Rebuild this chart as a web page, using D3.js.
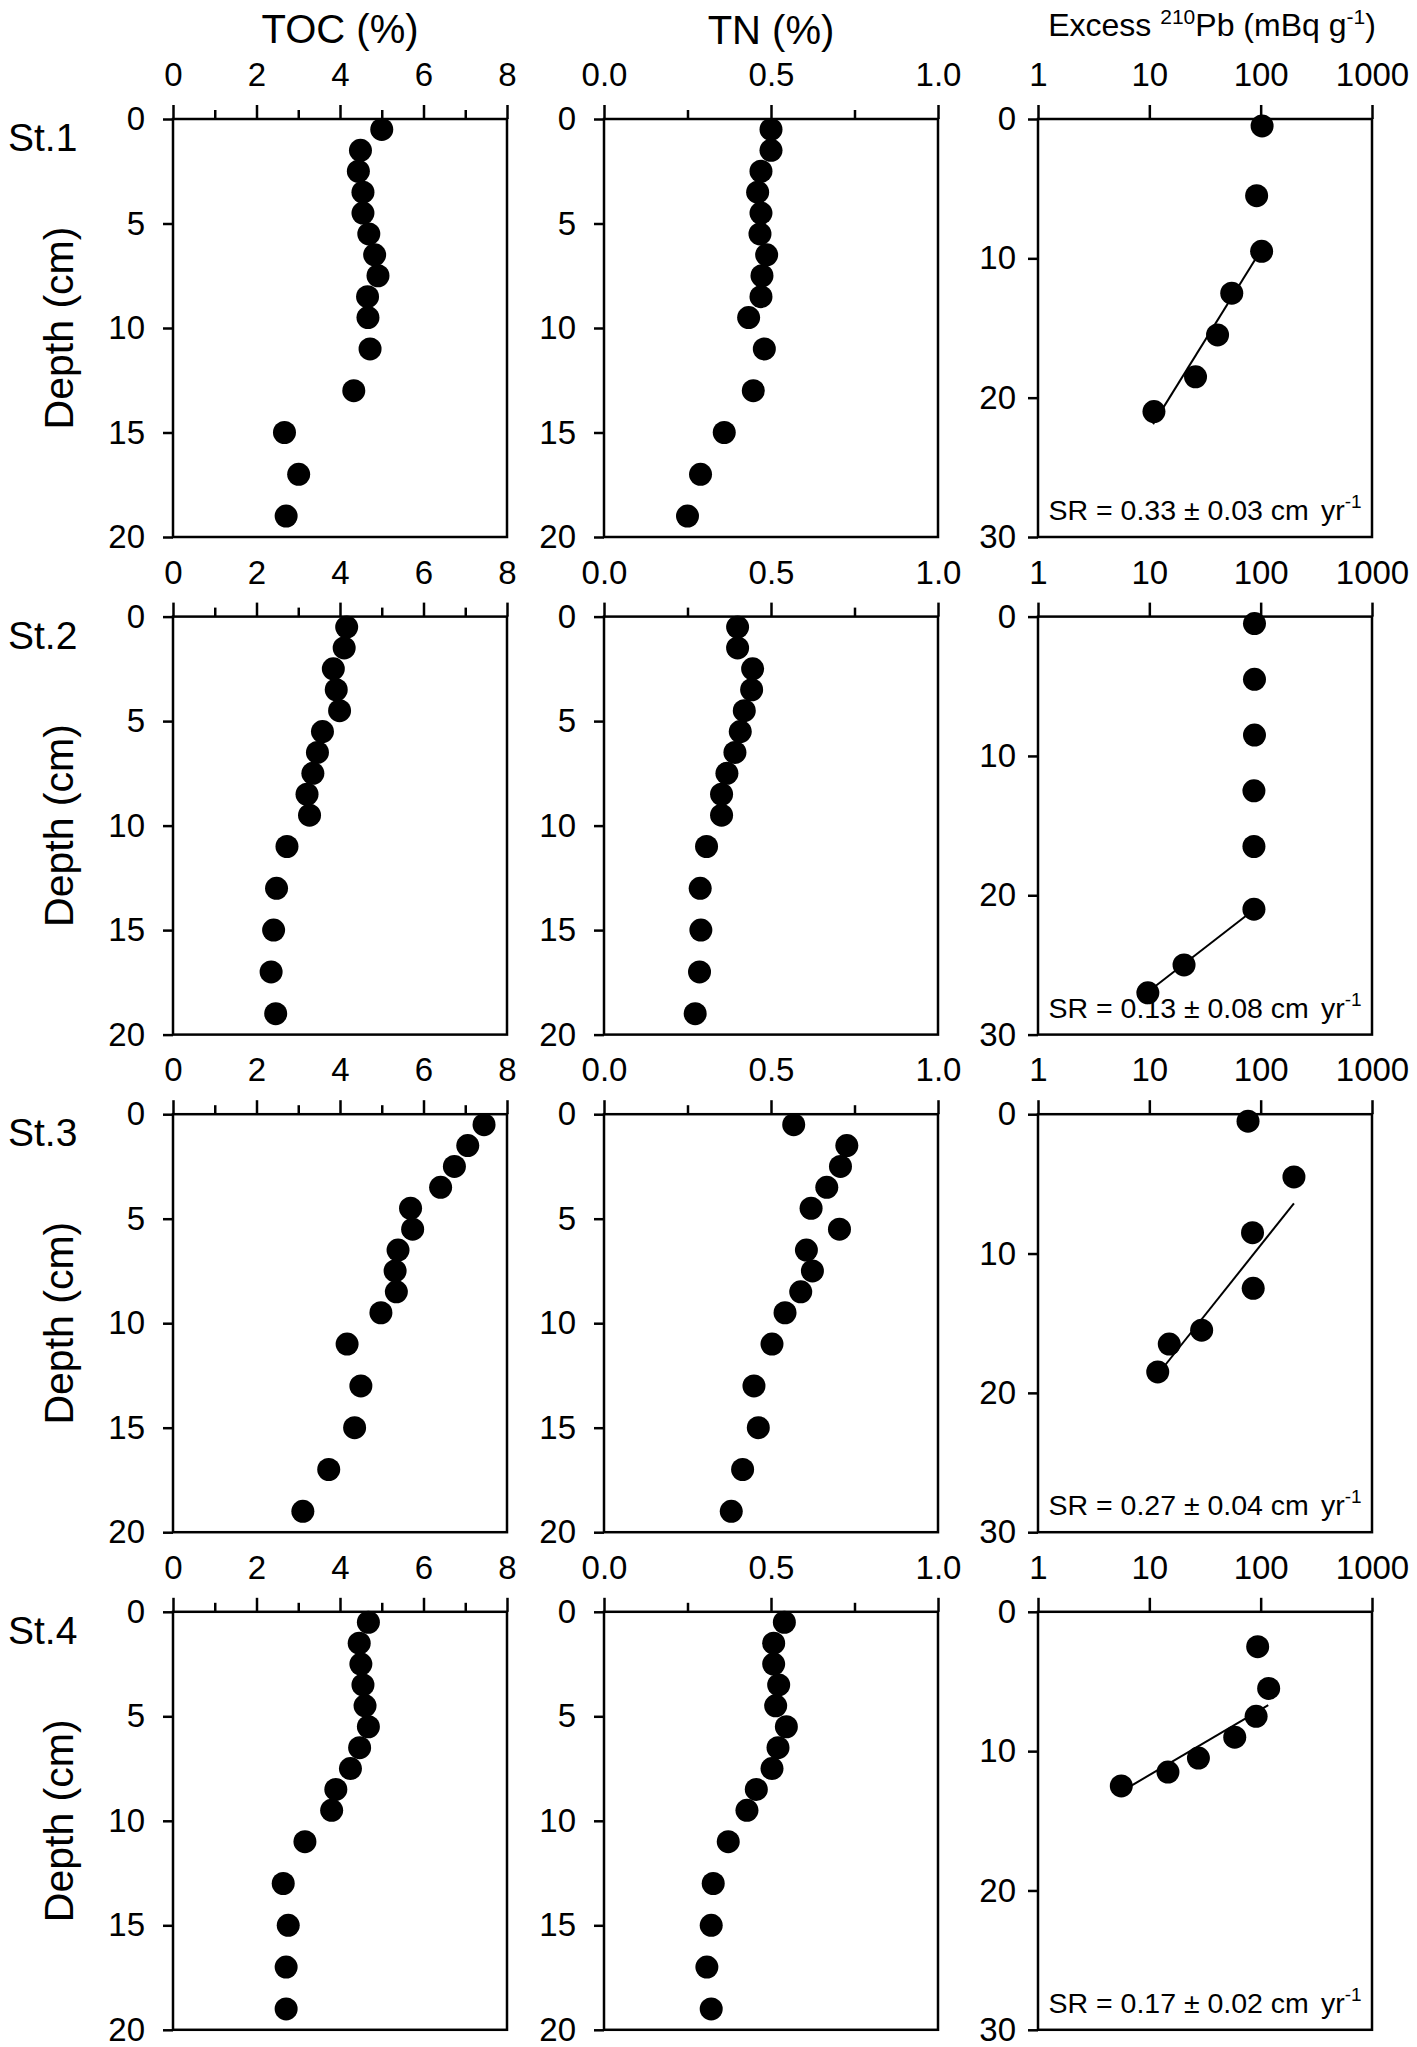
<!DOCTYPE html>
<html>
<head>
<meta charset="utf-8">
<script src="https://cdn.jsdelivr.net/npm/d3@7"></script>
<style>
  body { margin: 0; background: #fff; }
  svg { font-family: "Liberation Sans", Arial, sans-serif; }
</style>
</head>
<body>
<div id="chart"></div>
<script>
// core depths (cm) shared by TOC and TN
const stations = ["St.1", "St.2", "St.3", "St.4"];
const coreDepth = [0.5, 1.5, 2.5, 3.5, 4.5, 5.5, 6.5, 7.5, 8.5, 9.5, 11, 13, 15, 17, 19];

const toc = [
  [5.0, 4.49, 4.44, 4.55, 4.55, 4.69, 4.83, 4.91, 4.66, 4.67, 4.72, 4.33, 2.67, 3.01, 2.71],
  [4.16, 4.10, 3.84, 3.91, 3.99, 3.58, 3.46, 3.35, 3.21, 3.27, 2.73, 2.48, 2.41, 2.35, 2.46],
  [7.45, 7.06, 6.74, 6.41, 5.69, 5.74, 5.39, 5.32, 5.35, 4.98, 4.17, 4.50, 4.35, 3.73, 3.11],
  [4.68, 4.46, 4.50, 4.55, 4.60, 4.68, 4.47, 4.25, 3.90, 3.80, 3.16, 2.64, 2.76, 2.71, 2.71]
];

const tn = [
  [0.50, 0.50, 0.47, 0.46, 0.47, 0.467, 0.487, 0.473, 0.47, 0.433, 0.48, 0.447, 0.36, 0.289, 0.25],
  [0.40, 0.40, 0.445, 0.442, 0.42, 0.408, 0.392, 0.368, 0.352, 0.352, 0.307, 0.288, 0.29, 0.286, 0.273],
  [0.568, 0.727, 0.708, 0.667, 0.62, 0.705, 0.606, 0.624, 0.589, 0.542, 0.503, 0.449, 0.462, 0.415, 0.381],
  [0.54, 0.508, 0.508, 0.523, 0.514, 0.546, 0.521, 0.503, 0.456, 0.428, 0.372, 0.327, 0.321, 0.308, 0.321]
];

// excess 210Pb
const pbDepth = [
  [0.5, 5.5, 9.5, 12.5, 15.5, 18.5, 21],
  [0.5, 4.5, 8.5, 12.5, 16.5, 21, 25, 27],
  [0.5, 4.5, 8.5, 12.5, 15.5, 16.5, 18.5],
  [2.5, 5.5, 7.5, 9, 10.5, 11.5, 12.5]
];
const pbExcess = [
  [103, 92, 102, 55, 41, 26, 11],
  [88, 88, 88, 87, 87, 87, 20.5, 9.7],
  [77, 199, 84.5, 85.7, 29.5, 15.1, 11.9],
  [94, 118, 91, 58.5, 27.6, 14.7, 5.6]
];
// regression line ends [excess, depth]
const fitLines = [
  [[100, 9.45], [10.8, 21.9]],
  [[88, 21], [11, 26.6]],
  [[199, 6.4], [13.9, 18.0]],
  [[117, 6.7], [5.6, 12.9]]
];
const srText = ["0.33 \u00b1 0.03", "0.13 \u00b1 0.08", "0.27 \u00b1 0.04", "0.17 \u00b1 0.02"];

const tocTicks = [0, 2, 4, 6, 8], tocMinor = [1, 3, 5, 7];
const tnTicks = [0, 0.5, 1.0], tnMinor = [0.25, 0.75];
const pbTicks = [1, 10, 100, 1000];
const depthTicks = [0, 5, 10, 15, 20];
const pbDepthTicks = [0, 10, 20, 30];

const width = 1417, height = 2047;
const svg = d3.select("#chart")
  .append("svg")
  .attr("width", width)
  .attr("height", height)
  .attr("viewBox", [0, 0, width, height]);

const colX = [173, 604, 1038];
const panelW = 334, panelH = 418;
const rowTop = i => 119 + i * 497.6;
const radius = 11.5;

function drawPanel(x, y, xTicks, xMinor, xFmt, yTicks, yPad) {
  const g = svg.append("g");
  g.append("rect")
    .attr("x", x.range()[0]).attr("y", y.range()[0])
    .attr("width", x.range()[1] - x.range()[0])
    .attr("height", y.range()[1] - y.range()[0])
    .attr("fill", "none").attr("stroke", "#000").attr("stroke-width", 2.5);

  g.append("g")
    .attr("transform", `translate(0,${y.range()[0]})`)
    .call(d3.axisTop(x).tickValues(xTicks).tickSize(14).tickPadding(19).tickFormat(xFmt));
  if (xMinor) {
    g.append("g")
      .attr("transform", `translate(0,${y.range()[0]})`)
      .call(d3.axisTop(x).tickValues(xMinor).tickSize(9).tickFormat(""));
  }
  g.append("g")
    .attr("transform", `translate(${x.range()[0]},0)`)
    .call(d3.axisLeft(y).tickValues(yTicks).tickSize(10).tickPadding(yPad).tickFormat(d3.format("d")));

  g.selectAll(".domain").remove();
  g.selectAll(".tick line").attr("stroke", "#000").attr("stroke-width", 2.5);
  g.selectAll(".tick text")
    .attr("fill", "#000")
    .style("font-size", "33px")
    .style("font-family", "'Liberation Sans', Arial, sans-serif");
  return g;
}

function dots(g, data, x, y) {
  g.selectAll("circle.pt")
    .data(data)
    .enter()
    .append("circle")
    .attr("class", "pt")
    .attr("cx", d => x(d[0]))
    .attr("cy", d => y(d[1]))
    .attr("r", radius)
    .attr("fill", "#000");
}

stations.forEach((st, i) => {
  const t = rowTop(i);
  const yD = d3.scaleLinear().domain([0, 20]).range([t, t + panelH]);
  const yPb = d3.scaleLinear().domain([0, 30]).range([t, t + panelH]);
  const xToc = d3.scaleLinear().domain([0, 8]).range([colX[0], colX[0] + panelW]);
  const xTn = d3.scaleLinear().domain([0, 1]).range([colX[1], colX[1] + panelW]);
  const xPb = d3.scaleLog().domain([1, 1000]).range([colX[2], colX[2] + panelW]);

  const g1 = drawPanel(xToc, yD, tocTicks, tocMinor, d3.format("d"), depthTicks, 18);
  dots(g1, coreDepth.map((d, j) => [toc[i][j], d]), xToc, yD);

  const g2 = drawPanel(xTn, yD, tnTicks, tnMinor, d3.format(".1f"), depthTicks, 18);
  dots(g2, coreDepth.map((d, j) => [tn[i][j], d]), xTn, yD);

  const g3 = drawPanel(xPb, yPb, pbTicks, null, d3.format("d"), pbDepthTicks, 12);
  g3.append("path")
    .datum(fitLines[i])
    .attr("fill", "none")
    .attr("stroke", "#000")
    .attr("stroke-width", 2)
    .attr("d", d3.line().x(d => xPb(d[0])).y(d => yPb(d[1])));
  dots(g3, pbDepth[i].map((d, j) => [pbExcess[i][j], d]), xPb, yPb);

  // SR label
  const sr = g3.append("text")
    .attr("x", colX[2] + panelW / 2)
    .attr("y", t + panelH - 17)
    .attr("text-anchor", "middle")
    .style("font-size", "28.5px");
  sr.append("tspan").text(`SR = ${srText[i]} cm`);
  sr.append("tspan").attr("dx", 12).text("yr");
  sr.append("tspan").attr("dy", -12).style("font-size", "19px").text("-1");

  // station label
  svg.append("text")
    .attr("x", 8)
    .attr("y", t + 32)
    .style("font-size", "39px")
    .text(st);

  // depth label
  svg.append("text")
    .attr("transform", `translate(73,${t + panelH / 2}) rotate(-90)`)
    .attr("text-anchor", "middle")
    .style("font-size", "41px")
    .text("Depth (cm)");
});

// column titles
svg.append("text")
  .attr("x", colX[0] + panelW / 2).attr("y", 43)
  .attr("text-anchor", "middle")
  .style("font-size", "40px")
  .text("TOC (%)");

svg.append("text")
  .attr("x", colX[1] + panelW / 2).attr("y", 44)
  .attr("text-anchor", "middle")
  .style("font-size", "40px")
  .text("TN (%)");

const pbTitle = svg.append("text")
  .attr("x", colX[2] + panelW / 2 + 7).attr("y", 36)
  .attr("text-anchor", "middle")
  .style("font-size", "32px");
pbTitle.append("tspan").text("Excess ");
pbTitle.append("tspan").attr("dy", -12).style("font-size", "21px").text("210");
pbTitle.append("tspan").attr("dy", 12).text("Pb (mBq g");
pbTitle.append("tspan").attr("dy", -12).style("font-size", "21px").text("-1");
pbTitle.append("tspan").attr("dy", 12).text(")");
</script>
</body>
</html>
